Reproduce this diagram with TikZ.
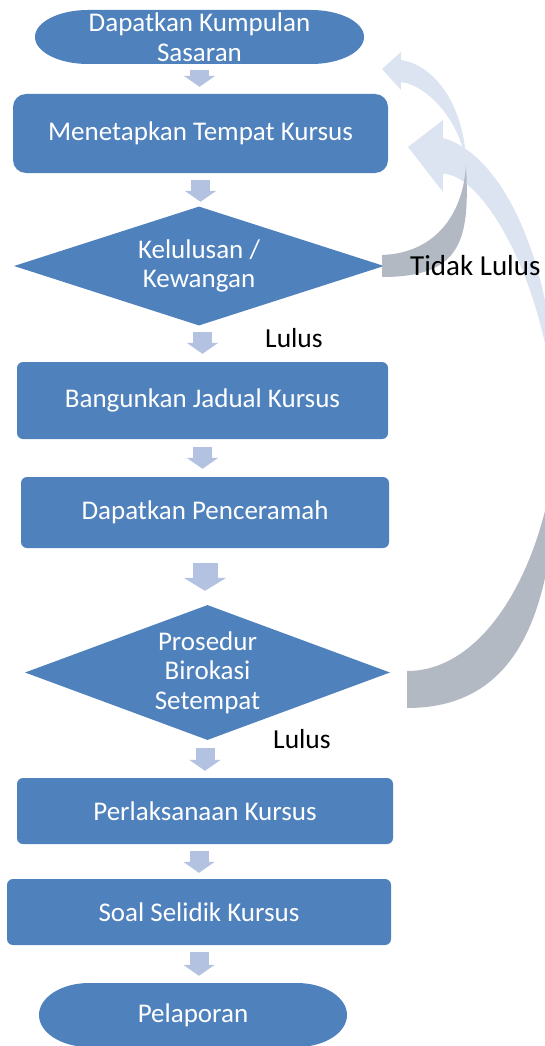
\documentclass[tikz,border=0pt]{standalone}
\usepackage{fontspec}
\setmainfont{Carlito}
\usetikzlibrary{shapes.geometric,arrows.meta}
\definecolor{boxblue}{RGB}{79,129,189}
\definecolor{stepblue}{RGB}{178,194,224}
\definecolor{loopblue}{RGB}{219,228,240}
\definecolor{loopgrey}{RGB}{178,185,195}
\pgfdeclarelayer{back}
\pgfsetlayers{back,main}

\begin{document}
\begin{tikzpicture}[x=1pt,y=-1pt,
  txt/.style={text=white, font=\fontsize{27}{29.5}\selectfont, align=center, inner sep=0pt},
  procbox/.style={txt, fill=boxblue, rounded corners=6pt},
  decision/.style={txt, diamond, fill=boxblue},
  flow/.style={stepblue, line width=19pt, -{Triangle[width=31pt,length=11pt]}},
  bigflow/.style={stepblue, line width=25pt, -{Triangle[width=42pt,length=13pt]}},
  note/.style={font=\fontsize{27.5}{30}\selectfont, inner sep=0pt, anchor=base west},
]
\useasboundingbox (0,0) rectangle (545,1046);

% ---------- process steps ----------
\node[txt, minimum width=329pt, minimum height=54pt] (start) at (199.5,37) {Dapatkan Kumpulan\\Sasaran};
\node[procbox, rounded corners=13pt, minimum width=375pt, minimum height=79pt] (place) at (200.5,133.5) {Menetapkan Tempat Kursus};
\node[decision, minimum width=370pt, minimum height=119pt, aspect=3.1] (budget) at (199,266) {Kelulusan /\\Kewangan};
\node[procbox, minimum width=371pt, minimum height=77pt] (sched) at (202.5,400.5) {Bangunkan Jadual Kursus};
\node[procbox, minimum width=368pt, minimum height=71pt] (lect) at (205,512.5) {Dapatkan Penceramah};
\node[decision, minimum width=365pt, minimum height=135pt, aspect=2.7] (bureau) at (207.5,672.5) {Prosedur\\Birokasi\\Setempat};
\node[procbox, minimum width=376pt, minimum height=66pt] (run) at (205,811) {Perlaksanaan Kursus};
\node[procbox, minimum width=384pt, minimum height=66pt] (survey) at (199,912) {Soal Selidik Kursus};
\node[txt, minimum width=308pt, minimum height=64pt] (report) at (193,1015) {Pelaporan};

% terminator outlines (elliptic ends)
\begin{pgfonlayer}{back}
  \fill[boxblue] (start.center) ++(-111.5,-27) -- ++(223,0)
    arc[start angle=90, end angle=-90, x radius=53pt, y radius=27pt] -- ++(-223,0)
    arc[start angle=270, end angle=90, x radius=53pt, y radius=27pt] -- cycle;
  \fill[boxblue] (report.center) ++(-104,-32) -- ++(208,0)
    arc[start angle=90, end angle=-90, x radius=50pt, y radius=32pt] -- ++(-208,0)
    arc[start angle=270, end angle=90, x radius=50pt, y radius=32pt] -- cycle;
\end{pgfonlayer}

% ---------- step arrows ----------
\draw[flow, shorten <=6pt, shorten >=7pt] (start.south) -- (start.south |- place.north);
\draw[flow, shorten <=7pt, shorten >=4.5pt] (place.south) -- (place.south |- budget.north);
\draw[flow, shorten <=6.5pt, shorten >=8pt] (budget.south -| sched.north) -- (sched.north);
\draw[flow, shorten <=8pt, shorten >=8pt] (sched.south) -- (sched.south |- lect.north);
\draw[bigflow, shorten <=15pt, shorten >=14pt] (lect.south) -- (lect.south |- bureau.north);
\draw[flow, shorten <=8pt, shorten >=7pt] (bureau.south -| run.north) -- (run.north);
\draw[flow, shorten <=7pt, shorten >=6pt] (run.south -| survey.north) -- (survey.north);
\draw[flow, shorten <=7pt, shorten >=7pt] (survey.south) -- (survey.south |- report.north);

% ---------- return loops ----------
\begin{scope}
  \clip (0,0) rectangle (545,1046);
  % long loop: Prosedur Birokasi Setempat back to Menetapkan Tempat Kursus
  \fill[loopblue] (408,147) -- (443,120) -- (443,138)
    .. controls (505,155) and (560,272) .. (557,435)
    .. controls (550,280) and (480,172) .. (443,174) -- (443,192) -- cycle;
  \fill[loopgrey] (557,435) .. controls (558,600) and (525,708) .. (407,708)
    -- (407,671) .. controls (490,671) and (549,555) .. (557,435) -- cycle;
  % short loop: Kelulusan / Kewangan back to Dapatkan Kumpulan Sasaran
  \fill[loopblue] (382,69) -- (401,52) -- (401,60)
    .. controls (440,66) and (466,115) .. (466,165)
    .. controls (462,125) and (430,86) .. (401,82) -- (401,90) -- cycle;
  \fill[loopgrey] (466,165) .. controls (470,240) and (462,277) .. (382,277)
    -- (382,255) .. controls (435,253) and (463,215) .. (466,165) -- cycle;
\end{scope}

% ---------- branch labels ----------
\node[note, font=\fontsize{29}{31}\selectfont] (nofail) at (410,275) {Tidak Lulus};
\node[note] (pass1) at (265,347) {Lulus};
\node[note] (pass2) at (273,748) {Lulus};
\end{tikzpicture}
\end{document}
